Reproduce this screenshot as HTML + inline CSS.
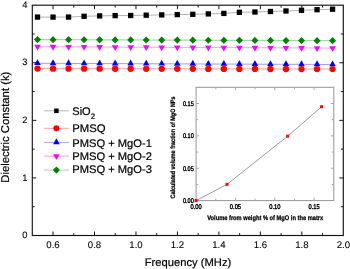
<!DOCTYPE html><html><head><meta charset="utf-8"><style>html,body{margin:0;padding:0;background:#fff;width:350px;height:269px;overflow:hidden}svg{display:block;will-change:transform}text{font-family:"Liberation Sans",sans-serif;text-rendering:geometricPrecision;fill:#000;stroke:#000;stroke-width:0.22}.b{font-weight:bold;stroke-width:0.3}.t{stroke-width:0.08}.m{stroke-width:0.2}.bt{stroke-width:0.32}.rt{stroke-width:0.22;font-weight:bold}</style></head><body>
<svg width="350" height="269" viewBox="0 0 350 269">
<rect width="350" height="269" fill="#fff"/>
<polyline points="37.50,17.10 53.03,17.10 68.56,17.10 84.09,16.30 99.62,15.90 115.15,15.60 130.68,15.50 146.21,15.20 161.74,14.90 177.27,14.60 192.80,14.30 208.33,13.90 223.86,13.40 239.39,12.30 254.92,12.00 270.45,11.50 285.98,11.00 301.51,10.30 317.04,9.70 332.57,9.20" fill="none" stroke="#b4b4b4" stroke-width="1"/>
<polyline points="37.50,39.60 53.03,39.66 68.56,39.72 84.09,39.77 99.62,39.83 115.15,39.89 130.68,39.95 146.21,40.01 161.74,40.06 177.27,40.12 192.80,40.18 208.33,40.24 223.86,40.29 239.39,40.35 254.92,40.41 270.45,40.47 285.98,40.53 301.51,40.58 317.04,40.64 332.57,40.70" fill="none" stroke="#a8d8a8" stroke-width="1.2"/>
<polyline points="37.50,46.70 53.03,46.77 68.56,46.85 84.09,46.92 99.62,46.99 115.15,47.07 130.68,47.14 146.21,47.22 161.74,47.29 177.27,47.36 192.80,47.44 208.33,47.51 223.86,47.58 239.39,47.66 254.92,47.73 270.45,47.81 285.98,47.88 301.51,47.95 317.04,48.03 332.57,48.10" fill="none" stroke="#ff9cff" stroke-width="1"/>
<polyline points="37.50,63.30 53.03,63.36 68.56,63.43 84.09,63.49 99.62,63.55 115.15,63.62 130.68,63.68 146.21,63.74 161.74,63.81 177.27,63.87 192.80,63.93 208.33,63.99 223.86,64.06 239.39,64.12 254.92,64.18 270.45,64.25 285.98,64.31 301.51,64.37 317.04,64.44 332.57,64.50" fill="none" stroke="#a0a0ff" stroke-width="1"/>
<polyline points="37.50,68.60 53.03,68.63 68.56,68.65 84.09,68.68 99.62,68.71 115.15,68.73 130.68,68.76 146.21,68.78 161.74,68.81 177.27,68.84 192.80,68.86 208.33,68.89 223.86,68.92 239.39,68.94 254.92,68.97 270.45,68.99 285.98,69.02 301.51,69.05 317.04,69.07 332.57,69.10" fill="none" stroke="#ffa0a0" stroke-width="1"/>
<rect x="34.85" y="14.45" width="5.3" height="5.3" fill="#000"/>
<rect x="50.38" y="14.45" width="5.3" height="5.3" fill="#000"/>
<rect x="65.91" y="14.45" width="5.3" height="5.3" fill="#000"/>
<rect x="81.44" y="13.65" width="5.3" height="5.3" fill="#000"/>
<rect x="96.97" y="13.25" width="5.3" height="5.3" fill="#000"/>
<rect x="112.50" y="12.95" width="5.3" height="5.3" fill="#000"/>
<rect x="128.03" y="12.85" width="5.3" height="5.3" fill="#000"/>
<rect x="143.56" y="12.55" width="5.3" height="5.3" fill="#000"/>
<rect x="159.09" y="12.25" width="5.3" height="5.3" fill="#000"/>
<rect x="174.62" y="11.95" width="5.3" height="5.3" fill="#000"/>
<rect x="190.15" y="11.65" width="5.3" height="5.3" fill="#000"/>
<rect x="205.68" y="11.25" width="5.3" height="5.3" fill="#000"/>
<rect x="221.21" y="10.75" width="5.3" height="5.3" fill="#000"/>
<rect x="236.74" y="9.65" width="5.3" height="5.3" fill="#000"/>
<rect x="252.27" y="9.35" width="5.3" height="5.3" fill="#000"/>
<rect x="267.80" y="8.85" width="5.3" height="5.3" fill="#000"/>
<rect x="283.33" y="8.35" width="5.3" height="5.3" fill="#000"/>
<rect x="298.86" y="7.65" width="5.3" height="5.3" fill="#000"/>
<rect x="314.39" y="7.05" width="5.3" height="5.3" fill="#000"/>
<rect x="329.92" y="6.55" width="5.3" height="5.3" fill="#000"/>
<path d="M37.50 36.00L41.00 39.60L37.50 43.20L34.00 39.60Z" fill="#007f00"/>
<path d="M53.03 36.06L56.53 39.66L53.03 43.26L49.53 39.66Z" fill="#007f00"/>
<path d="M68.56 36.12L72.06 39.72L68.56 43.32L65.06 39.72Z" fill="#007f00"/>
<path d="M84.09 36.17L87.59 39.77L84.09 43.37L80.59 39.77Z" fill="#007f00"/>
<path d="M99.62 36.23L103.12 39.83L99.62 43.43L96.12 39.83Z" fill="#007f00"/>
<path d="M115.15 36.29L118.65 39.89L115.15 43.49L111.65 39.89Z" fill="#007f00"/>
<path d="M130.68 36.35L134.18 39.95L130.68 43.55L127.18 39.95Z" fill="#007f00"/>
<path d="M146.21 36.41L149.71 40.01L146.21 43.61L142.71 40.01Z" fill="#007f00"/>
<path d="M161.74 36.46L165.24 40.06L161.74 43.66L158.24 40.06Z" fill="#007f00"/>
<path d="M177.27 36.52L180.77 40.12L177.27 43.72L173.77 40.12Z" fill="#007f00"/>
<path d="M192.80 36.58L196.30 40.18L192.80 43.78L189.30 40.18Z" fill="#007f00"/>
<path d="M208.33 36.64L211.83 40.24L208.33 43.84L204.83 40.24Z" fill="#007f00"/>
<path d="M223.86 36.69L227.36 40.29L223.86 43.89L220.36 40.29Z" fill="#007f00"/>
<path d="M239.39 36.75L242.89 40.35L239.39 43.95L235.89 40.35Z" fill="#007f00"/>
<path d="M254.92 36.81L258.42 40.41L254.92 44.01L251.42 40.41Z" fill="#007f00"/>
<path d="M270.45 36.87L273.95 40.47L270.45 44.07L266.95 40.47Z" fill="#007f00"/>
<path d="M285.98 36.93L289.48 40.53L285.98 44.13L282.48 40.53Z" fill="#007f00"/>
<path d="M301.51 36.98L305.01 40.58L301.51 44.18L298.01 40.58Z" fill="#007f00"/>
<path d="M317.04 37.04L320.54 40.64L317.04 44.24L313.54 40.64Z" fill="#007f00"/>
<path d="M332.57 37.10L336.07 40.70L332.57 44.30L329.07 40.70Z" fill="#007f00"/>
<path d="M34.20 44.80L40.80 44.80L37.50 50.60Z" fill="#f0f"/>
<path d="M49.73 44.87L56.33 44.87L53.03 50.67Z" fill="#f0f"/>
<path d="M65.26 44.95L71.86 44.95L68.56 50.75Z" fill="#f0f"/>
<path d="M80.79 45.02L87.39 45.02L84.09 50.82Z" fill="#f0f"/>
<path d="M96.32 45.09L102.92 45.09L99.62 50.89Z" fill="#f0f"/>
<path d="M111.85 45.17L118.45 45.17L115.15 50.97Z" fill="#f0f"/>
<path d="M127.38 45.24L133.98 45.24L130.68 51.04Z" fill="#f0f"/>
<path d="M142.91 45.32L149.51 45.32L146.21 51.12Z" fill="#f0f"/>
<path d="M158.44 45.39L165.04 45.39L161.74 51.19Z" fill="#f0f"/>
<path d="M173.97 45.46L180.57 45.46L177.27 51.26Z" fill="#f0f"/>
<path d="M189.50 45.54L196.10 45.54L192.80 51.34Z" fill="#f0f"/>
<path d="M205.03 45.61L211.63 45.61L208.33 51.41Z" fill="#f0f"/>
<path d="M220.56 45.68L227.16 45.68L223.86 51.48Z" fill="#f0f"/>
<path d="M236.09 45.76L242.69 45.76L239.39 51.56Z" fill="#f0f"/>
<path d="M251.62 45.83L258.22 45.83L254.92 51.63Z" fill="#f0f"/>
<path d="M267.15 45.91L273.75 45.91L270.45 51.71Z" fill="#f0f"/>
<path d="M282.68 45.98L289.28 45.98L285.98 51.78Z" fill="#f0f"/>
<path d="M298.21 46.05L304.81 46.05L301.51 51.85Z" fill="#f0f"/>
<path d="M313.74 46.13L320.34 46.13L317.04 51.93Z" fill="#f0f"/>
<path d="M329.27 46.20L335.87 46.20L332.57 52.00Z" fill="#f0f"/>
<path d="M37.50 59.20L40.80 65.10L34.20 65.10Z" fill="#00f"/>
<path d="M53.03 59.26L56.33 65.16L49.73 65.16Z" fill="#00f"/>
<path d="M68.56 59.33L71.86 65.23L65.26 65.23Z" fill="#00f"/>
<path d="M84.09 59.39L87.39 65.29L80.79 65.29Z" fill="#00f"/>
<path d="M99.62 59.45L102.92 65.35L96.32 65.35Z" fill="#00f"/>
<path d="M115.15 59.52L118.45 65.42L111.85 65.42Z" fill="#00f"/>
<path d="M130.68 59.58L133.98 65.48L127.38 65.48Z" fill="#00f"/>
<path d="M146.21 59.64L149.51 65.54L142.91 65.54Z" fill="#00f"/>
<path d="M161.74 59.71L165.04 65.61L158.44 65.61Z" fill="#00f"/>
<path d="M177.27 59.77L180.57 65.67L173.97 65.67Z" fill="#00f"/>
<path d="M192.80 59.83L196.10 65.73L189.50 65.73Z" fill="#00f"/>
<path d="M208.33 59.89L211.63 65.79L205.03 65.79Z" fill="#00f"/>
<path d="M223.86 59.96L227.16 65.86L220.56 65.86Z" fill="#00f"/>
<path d="M239.39 60.02L242.69 65.92L236.09 65.92Z" fill="#00f"/>
<path d="M254.92 60.08L258.22 65.98L251.62 65.98Z" fill="#00f"/>
<path d="M270.45 60.15L273.75 66.05L267.15 66.05Z" fill="#00f"/>
<path d="M285.98 60.21L289.28 66.11L282.68 66.11Z" fill="#00f"/>
<path d="M301.51 60.27L304.81 66.17L298.21 66.17Z" fill="#00f"/>
<path d="M317.04 60.34L320.34 66.24L313.74 66.24Z" fill="#00f"/>
<path d="M332.57 60.40L335.87 66.30L329.27 66.30Z" fill="#00f"/>
<circle cx="37.50" cy="68.60" r="3.15" fill="#f00"/>
<circle cx="53.03" cy="68.63" r="3.15" fill="#f00"/>
<circle cx="68.56" cy="68.65" r="3.15" fill="#f00"/>
<circle cx="84.09" cy="68.68" r="3.15" fill="#f00"/>
<circle cx="99.62" cy="68.71" r="3.15" fill="#f00"/>
<circle cx="115.15" cy="68.73" r="3.15" fill="#f00"/>
<circle cx="130.68" cy="68.76" r="3.15" fill="#f00"/>
<circle cx="146.21" cy="68.78" r="3.15" fill="#f00"/>
<circle cx="161.74" cy="68.81" r="3.15" fill="#f00"/>
<circle cx="177.27" cy="68.84" r="3.15" fill="#f00"/>
<circle cx="192.80" cy="68.86" r="3.15" fill="#f00"/>
<circle cx="208.33" cy="68.89" r="3.15" fill="#f00"/>
<circle cx="223.86" cy="68.92" r="3.15" fill="#f00"/>
<circle cx="239.39" cy="68.94" r="3.15" fill="#f00"/>
<circle cx="254.92" cy="68.97" r="3.15" fill="#f00"/>
<circle cx="270.45" cy="68.99" r="3.15" fill="#f00"/>
<circle cx="285.98" cy="69.02" r="3.15" fill="#f00"/>
<circle cx="301.51" cy="69.05" r="3.15" fill="#f00"/>
<circle cx="317.04" cy="69.07" r="3.15" fill="#f00"/>
<circle cx="332.57" cy="69.10" r="3.15" fill="#f00"/>
<rect x="32.3" y="5.2" width="311.0" height="230.3" fill="none" stroke="#151515" stroke-width="1.15"/>
<path d="M53.03 235.5v-4.0M53.03 5.2v4.0M73.77 235.5v-2.4M73.77 5.2v2.4M94.50 235.5v-4.0M94.50 5.2v4.0M115.23 235.5v-2.4M115.23 5.2v2.4M135.97 235.5v-4.0M135.97 5.2v4.0M156.70 235.5v-2.4M156.70 5.2v2.4M177.43 235.5v-4.0M177.43 5.2v4.0M198.17 235.5v-2.4M198.17 5.2v2.4M218.90 235.5v-4.0M218.90 5.2v4.0M239.63 235.5v-2.4M239.63 5.2v2.4M260.37 235.5v-4.0M260.37 5.2v4.0M281.10 235.5v-2.4M281.10 5.2v2.4M301.83 235.5v-4.0M301.83 5.2v4.0M322.57 235.5v-2.4M322.57 5.2v2.4M32.3 206.71h2.4M343.3 206.71h-2.4M32.3 177.93h4.0M343.3 177.93h-4.0M32.3 149.14h2.4M343.3 149.14h-2.4M32.3 120.35h4.0M343.3 120.35h-4.0M32.3 91.56h2.4M343.3 91.56h-2.4M32.3 62.77h4.0M343.3 62.77h-4.0M32.3 33.99h2.4M343.3 33.99h-2.4" stroke="#151515" stroke-width="1" fill="none"/>
<text class="t" x="53.03" y="247.9" font-size="9.6" text-anchor="middle">0.6</text>
<text class="t" x="94.50" y="247.9" font-size="9.6" text-anchor="middle">0.8</text>
<text class="t" x="135.97" y="247.9" font-size="9.6" text-anchor="middle">1.0</text>
<text class="t" x="177.43" y="247.9" font-size="9.6" text-anchor="middle">1.2</text>
<text class="t" x="218.90" y="247.9" font-size="9.6" text-anchor="middle">1.4</text>
<text class="t" x="260.37" y="247.9" font-size="9.6" text-anchor="middle">1.6</text>
<text class="t" x="301.83" y="247.9" font-size="9.6" text-anchor="middle">1.8</text>
<text class="t" x="343.30" y="247.9" font-size="9.6" text-anchor="middle">2.0</text>
<text class="t" x="27.4" y="238.10" font-size="9.4" text-anchor="end">0</text>
<text class="t" x="27.4" y="180.53" font-size="9.4" text-anchor="end">1</text>
<text class="t" x="27.4" y="122.95" font-size="9.4" text-anchor="end">2</text>
<text class="t" x="27.4" y="65.37" font-size="9.4" text-anchor="end">3</text>
<text class="t" x="27.4" y="7.80" font-size="9.4" text-anchor="end">4</text>
<text class="m" x="188" y="265.9" font-size="11" text-anchor="middle" textLength="86.5" lengthAdjust="spacingAndGlyphs">Frequency (MHz)</text>
<text class="m" transform="translate(9.4 127.2) rotate(-90)" font-size="11.3" text-anchor="middle">Dielectric Constant (k)</text>
<path d="M43.9 110.8H68.9" stroke="#b4b4b4" stroke-width="1"/>
<rect x="54.15" y="108.55" width="4.5" height="4.5" fill="#000"/>
<path d="M43.9 128.3H68.9" stroke="#ffa0a0" stroke-width="1"/>
<circle cx="56.40" cy="128.30" r="3.0" fill="#f00"/>
<path d="M43.9 142.4H68.9" stroke="#a0a0ff" stroke-width="1"/>
<path d="M56.40 138.30L59.70 144.20L53.10 144.20Z" fill="#00f"/>
<path d="M43.9 156.1H68.9" stroke="#ff9cff" stroke-width="1"/>
<path d="M53.10 154.20L59.70 154.20L56.40 160.00Z" fill="#f0f"/>
<path d="M43.9 170.1H68.9" stroke="#a8d8a8" stroke-width="1"/>
<path d="M56.40 166.50L59.90 170.10L56.40 173.70L52.90 170.10Z" fill="#007f00"/>
<text x="72.3" y="114.6" font-size="11">SiO<tspan font-size="7.8" dy="3.9">2</tspan></text>
<text x="72.3" y="132.2" font-size="11" textLength="33.3" lengthAdjust="spacingAndGlyphs">PMSQ</text>
<text x="72.3" y="147.3" font-size="11" textLength="79.6" lengthAdjust="spacingAndGlyphs">PMSQ + MgO-1</text>
<text x="72.3" y="159.9" font-size="11" textLength="79.6" lengthAdjust="spacingAndGlyphs">PMSQ + MgO-2</text>
<text x="72.3" y="173.2" font-size="11" textLength="79.6" lengthAdjust="spacingAndGlyphs">PMSQ + MgO-3</text>
<polyline points="196.10,200.60 227.02,184.35 287.69,136.18 321.60,106.72" fill="none" stroke="#9a9a9a" stroke-width="1"/>
<rect x="196.1" y="87.3" width="137.70000000000002" height="113.3" fill="none" stroke="#959595" stroke-width="1"/>
<path d="M215.77 200.6v-2M215.77 87.3v2M196.1 184.41h2M333.8 184.41h-2M235.44 200.6v-3M235.44 87.3v3M196.1 168.23h3M333.8 168.23h-3M255.11 200.6v-2M255.11 87.3v2M196.1 152.04h2M333.8 152.04h-2M274.79 200.6v-3M274.79 87.3v3M196.1 135.86h3M333.8 135.86h-3M294.46 200.6v-2M294.46 87.3v2M196.1 119.67h2M333.8 119.67h-2M314.13 200.6v-3M314.13 87.3v3M196.1 103.49h3M333.8 103.49h-3" stroke="#a8a8a8" stroke-width="1" fill="none"/>
<rect x="194.60" y="199.10" width="3.0" height="3.0" fill="#f00"/>
<rect x="225.52" y="182.85" width="3.0" height="3.0" fill="#f00"/>
<rect x="286.19" y="134.68" width="3.0" height="3.0" fill="#f00"/>
<rect x="320.10" y="105.22" width="3.0" height="3.0" fill="#f00"/>
<text class="bt" transform="translate(196.10 208.8) scale(1 1.2)" font-size="5.75" text-anchor="middle">0.00</text>
<text class="bt" transform="translate(193.8 202.90) scale(1 1.2)" font-size="5.6" text-anchor="end">0.00</text>
<text class="bt" transform="translate(235.44 208.8) scale(1 1.2)" font-size="5.75" text-anchor="middle">0.05</text>
<text class="bt" transform="translate(193.8 170.53) scale(1 1.2)" font-size="5.6" text-anchor="end">0.05</text>
<text class="bt" transform="translate(274.79 208.8) scale(1 1.2)" font-size="5.75" text-anchor="middle">0.10</text>
<text class="bt" transform="translate(193.8 138.16) scale(1 1.2)" font-size="5.6" text-anchor="end">0.10</text>
<text class="bt" transform="translate(314.13 208.8) scale(1 1.2)" font-size="5.75" text-anchor="middle">0.15</text>
<text class="bt" transform="translate(193.8 105.79) scale(1 1.2)" font-size="5.6" text-anchor="end">0.15</text>
<text class="rt" transform="translate(265.2 219.7) scale(1 1.15)" font-size="5.8" text-anchor="middle" textLength="116" lengthAdjust="spacingAndGlyphs">Volume from weight % of MgO in the matrx</text>
<text class="rt" transform="translate(175.0 147.5) rotate(-90) scale(1 1.15)" font-size="5.6" text-anchor="middle" textLength="102" lengthAdjust="spacingAndGlyphs">Calculated volume fraction of MgO NPs</text>
</svg></body></html>
